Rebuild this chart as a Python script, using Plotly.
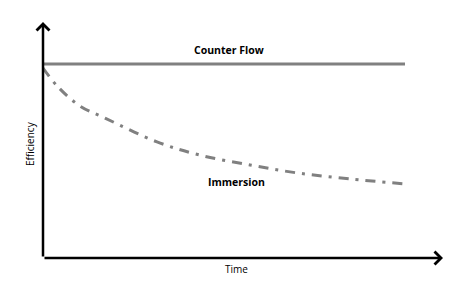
import plotly.graph_objects as go

# Data (arbitrary units 0-100)
counter_x = [0, 90.5]
counter_y = [82.2, 82.2]
immersion_x = [0, 3.75, 9.25, 15.5, 28.5, 39.25, 51.75, 63.75, 76.75, 90.5]
immersion_y = [80.5, 72.5, 64.4, 59.3, 49.2, 43.6, 39.4, 36.0, 33.5, 31.4]
labels = {"counter": "Counter Flow", "immersion": "Immersion", "x": "Time", "y": "Efficiency"}

GRAY = "#808080"
FONT = "Open Sans"

fig = go.Figure()
fig.add_trace(go.Scatter(x=counter_x, y=counter_y, mode="lines",
                         line=dict(color=GRAY, width=3), hoverinfo="skip"))
fig.add_trace(go.Scatter(x=immersion_x, y=immersion_y, mode="lines", line_shape="spline",
                         line=dict(color=GRAY, width=3, dash="10px,7px,3px,7px"),
                         hoverinfo="skip"))

ann = []
# axis arrows
ann.append(dict(x=100, y=0, ax=0, ay=0, xref="x", yref="y", axref="x", ayref="y",
                showarrow=True, arrowhead=4, arrowsize=1, arrowwidth=2.5,
                arrowcolor="black", standoff=0, startstandoff=0, text=""))
ann.append(dict(x=0, y=100, ax=0, ay=0, xref="x", yref="y", axref="x", ayref="y",
                showarrow=True, arrowhead=4, arrowsize=1, arrowwidth=2.5,
                arrowcolor="black", standoff=0, startstandoff=0, text=""))
# text labels
ann.append(dict(x=46.5, y=88.1, xref="x", yref="y", text="<b>" + labels["counter"] + "</b>",
                showarrow=False, font=dict(family=FONT, size=10.5, color="black")))
ann.append(dict(x=48.25, y=32.2, xref="x", yref="y", text="<b>" + labels["immersion"] + "</b>",
                showarrow=False, font=dict(family=FONT, size=10.5, color="black")))
ann.append(dict(x=0.4825, y=-0.047, xref="paper", yref="paper", xanchor="center", yanchor="middle",
                text=labels["x"], showarrow=False, font=dict(family=FONT, size=10, color="black")))
ann.append(dict(x=-0.0325, y=0.483, xref="paper", yref="paper", xanchor="center", yanchor="middle",
                text=labels["y"], textangle=-90,
                showarrow=False, font=dict(family=FONT, size=10, color="black")))

fig.update_layout(
    width=466, height=293,
    margin=dict(l=43, r=23, t=22, b=35),
    paper_bgcolor="white", plot_bgcolor="white",
    showlegend=False,
    xaxis=dict(range=[0, 100], visible=False, fixedrange=True),
    yaxis=dict(range=[0, 100], visible=False, fixedrange=True),
    annotations=ann,
)

fig.write_html("out.html")
